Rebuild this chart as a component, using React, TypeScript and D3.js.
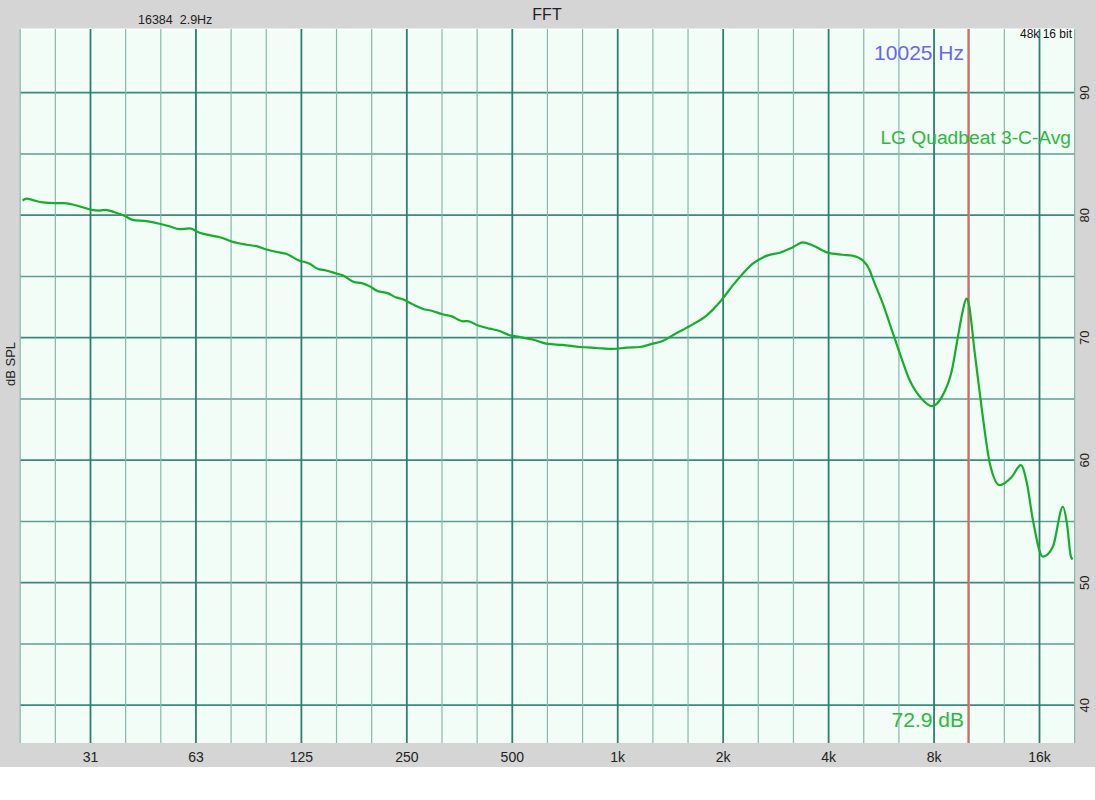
import * as d3 from "d3";

// measured response (Hz, dB SPL)
const freqHz = [
  20, 20.5, 21.3, 22.8, 24.7, 26, 27.8, 29.7, 31.5, 33.2, 34.5, 36.6, 39.1, 41.2, 45.2, 49.2,
  52.5, 56.1, 59.9, 64, 68.3, 74, 79.5, 87.2, 93.1, 99.4, 108, 113, 123, 132, 139, 147, 158,
  164, 177, 186, 196, 206, 220, 234, 243, 260, 277, 296, 316, 336, 361, 373, 398, 431, 460,
  491, 525, 572, 631, 696, 779, 871, 968, 1061, 1156, 1259, 1344, 1436, 1575, 1638, 1796,
  1982, 2131, 2275, 2430, 2682, 2902, 3162, 3375, 3606, 3978, 4391, 4691, 5009, 5244, 5349,
  5712, 6100, 6391, 6822, 7381, 7884, 8420, 8994, 9357, 9668, 9900, 10025, 10460,
  10958, 11544, 12329, 13343, 14160, 14730, 15320, 16359, 17472, 18660, 19160, 19670, 19900,
];
const splDb = [
  81.2, 81.35, 81.25, 81.04, 80.98, 80.98, 80.87, 80.65, 80.44, 80.38, 80.44, 80.24, 79.95,
  79.62, 79.51, 79.3, 79.1, 78.86, 78.92, 78.57, 78.37, 78.16, 77.83, 77.59, 77.47, 77.2,
  76.96, 76.85, 76.31, 76.04, 75.63, 75.49, 75.22, 75.09, 74.54, 74.46, 74.19, 73.81, 73.64,
  73.27, 73.15, 72.72, 72.37, 72.18, 71.91, 71.74, 71.34, 71.36, 71.01, 70.74, 70.55, 70.2,
  70.06, 69.85, 69.49, 69.41, 69.24, 69.16, 69.08, 69.19, 69.24, 69.52, 69.73, 70.2, 70.82,
  71.09, 71.83, 73.1, 74.27, 75.22, 76.04, 76.72, 76.94, 77.39, 77.78, 77.53, 76.94, 76.77,
  76.69, 76.31, 75.49, 74.82, 72.78, 70.4, 68.7, 66.5, 65.0, 64.41, 65.17, 67.34, 70.06,
  72.23, 73.2, 72.9, 68.7, 64.1, 59.74, 57.97, 58.65, 59.6, 58.11, 55.12, 52.13,
  52.94, 56.2, 54.85, 52.13, 51.9,
];

const xTickHz = [31.25, 62.5, 125, 250, 500, 1000, 2000, 4000, 8000, 16000];
const xTickLabels = ["31", "63", "125", "250", "500", "1k", "2k", "4k", "8k", "16k"];
const yTickDb = [40, 50, 60, 70, 80, 90];

const cursorHz = 10025;
const cursorLabel = "10025 Hz";
const cursorValue = "72.9 dB";
const traceName = "LG Quadbeat 3-C-Avg";

const W = 1095;
const H = 800;
const plot = { left: 20, right: 1075, top: 29, bottom: 743 };
const font = "'Liberation Sans', Arial, Helvetica, sans-serif";

export default function App() {
  const x = d3.scaleLog().domain([31.25, 16000]).range([90.5, 1039.5]);
  const y = d3.scaleLinear().domain([40, 90]).range([705.2, 92.7]);

  // third-octave grid, octave lines darker
  const vLines = d3.range(-2, 29).map((k) => ({ f: 31.25 * Math.pow(2, k / 3), major: k % 3 === 0 }));
  const hLines = d3.range(40, 91, 5).map((v) => ({ v, major: v % 10 === 0 }));

  const pts = freqHz.map((f, i) => [x(f), y(splDb[i])] as [number, number]);
  const line = d3.line().curve(d3.curveMonotoneX);

  return (
    <svg
      width={W}
      height={H}
      style={{ position: "absolute", left: 0, top: 0, background: "#ffffff" }}
      fontFamily={font}
    >
      <rect x={0} y={0} width={W} height={767} fill="#d5d5d5" />
      <rect
        x={plot.left}
        y={plot.top}
        width={plot.right - plot.left}
        height={plot.bottom - plot.top}
        fill="#f3fdf7"
      />
      <line x1={plot.left} x2={plot.right} y1={plot.top + 0.5} y2={plot.top + 0.5} stroke="#ffffff" strokeWidth={2} />

      {hLines.map((d) => (
        <line
          key={"h" + d.v}
          x1={plot.left}
          x2={plot.right}
          y1={y(d.v)}
          y2={y(d.v)}
          stroke={d.major ? "#3f887c" : "#5e9e93"}
          strokeWidth={d.major ? 1.8 : 1.4}
        />
      ))}
      {vLines.map((d, i) => (
        <line
          key={"v" + i}
          x1={x(d.f)}
          x2={x(d.f)}
          y1={plot.top}
          y2={plot.bottom}
          stroke={d.major ? "#2f7d70" : "#88b7ad"}
          strokeWidth={d.major ? 1.8 : 1.2}
        />
      ))}

      <line
        x1={x(cursorHz)}
        x2={x(cursorHz)}
        y1={plot.top}
        y2={plot.bottom}
        stroke="#e2625e"
        strokeWidth={2}
      />

      <path d={line(pts) ?? ""} fill="none" stroke="#15ad2b" strokeWidth={2.2} strokeLinejoin="round" />

      {xTickHz.map((f, i) => (
        <text key={"xt" + i} x={x(f)} y={762} textAnchor="middle" fontSize={14} fill="#222">
          {xTickLabels[i]}
        </text>
      ))}
      {yTickDb.map((v) => (
        <text
          key={"yt" + v}
          transform={`translate(1084,${y(v)}) rotate(-90)`}
          textAnchor="middle"
          dominantBaseline="central"
          fontSize={13}
          fill="#222"
        >
          {v}
        </text>
      ))}
      <text
        transform="translate(10,364) rotate(-90)"
        textAnchor="middle"
        dominantBaseline="central"
        fontSize={13}
        fill="#222"
      >
        dB SPL
      </text>

      <text x={547} y={20} textAnchor="middle" fontSize={16} fill="#222">
        FFT
      </text>
      <text x={138} y={24} fontSize={12.5} fill="#222" style={{ whiteSpace: "pre" }}>
        16384  2.9Hz
      </text>
      <text x={1072} y={38} textAnchor="end" fontSize={12} fill="#111">
        48k 16 bit
      </text>
      <text x={964} y={60} textAnchor="end" fontSize={21} fill="#6767f2">
        {cursorLabel}
      </text>
      <text x={1071} y={144} textAnchor="end" fontSize={19.2} fill="#2bb83c">
        {traceName}
      </text>
      <text x={964} y={727} textAnchor="end" fontSize={21} fill="#2bb83c">
        {cursorValue}
      </text>
    </svg>
  );
}
